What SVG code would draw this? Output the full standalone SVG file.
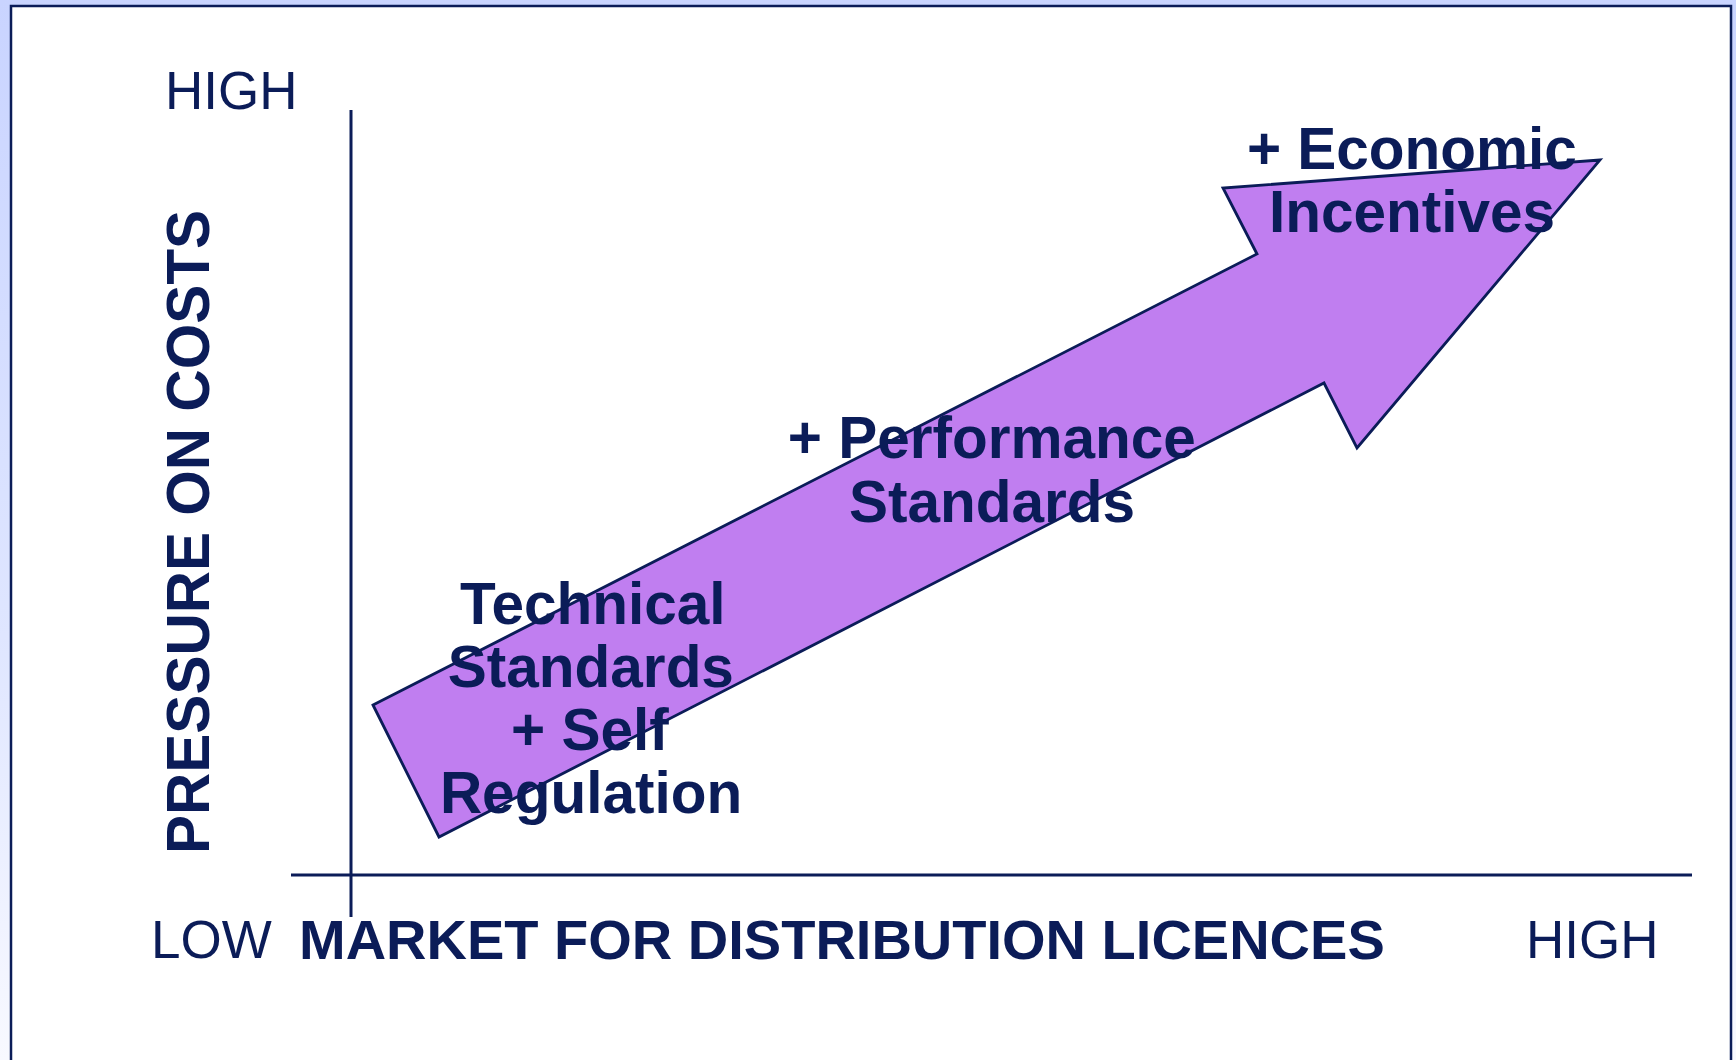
<svg xmlns="http://www.w3.org/2000/svg" width="1736" height="1060" viewBox="0 0 1736 1060">
  <defs>
    <linearGradient id="bg" x1="0" y1="0" x2="0" y2="1">
      <stop offset="0" stop-color="#c9d4ff"/>
      <stop offset="0.6" stop-color="#dfe6ff"/>
      <stop offset="1" stop-color="#f8f9ff"/>
    </linearGradient>
    <style>
      .lbl { font-family: "Liberation Sans", Arial, sans-serif; fill: #0b1c58; }
      .reg { font-size: 53px; }
      .bold { font-weight: bold; }
      .stage { font-size: 58.5px; font-weight: bold; }
      .axis { stroke: #0b1c58; stroke-width: 3; fill: none; }
      .arr { fill: #c07ef0; stroke: #0b1c58; stroke-width: 2.8; stroke-linejoin: miter; }
    </style>
  </defs>
  <rect x="0" y="0" width="1736" height="1060" fill="url(#bg)"/>
  <rect id="frame" x="11" y="6" width="1720" height="1070" fill="#ffffff" stroke="#0b1c58" stroke-width="2.5"/>

  <g id="axes">
    <line class="axis" x1="351" y1="110" x2="351" y2="917"/>
    <line class="axis" x1="291" y1="875" x2="1692" y2="875"/>
  </g>

  <g id="arrow">
    <polygon class="arr" points="373,705 1257,254 1223,188 1600,160 1357,448 1324,383 439,837"/>
  </g>

  <g id="axis-labels">
    <text class="lbl reg" x="165" y="109">HIGH</text>
    <text class="lbl reg" x="151" y="958">LOW</text>
    <text class="lbl reg" x="1526" y="958">HIGH</text>
    <text class="lbl bold" x="299" y="959" font-size="56">MARKET FOR DISTRIBUTION LICENCES</text>
    <text class="lbl bold" font-size="62" text-anchor="middle" transform="translate(209,532) rotate(-90)" textLength="644" lengthAdjust="spacingAndGlyphs">PRESSURE ON COSTS</text>
  </g>

  <g id="stage1">
    <text class="lbl stage" text-anchor="middle">
      <tspan x="601" y="624">Technical</tspan>
      <tspan x="599" y="687">Standards</tspan>
      <tspan x="598" y="750">+ Self</tspan>
      <tspan x="591" y="813">Regulation</tspan>
    </text>
  </g>

  <g id="stage2">
    <text class="lbl stage" text-anchor="middle">
      <tspan x="1000" y="458">+ Performance</tspan>
      <tspan x="992" y="522">Standards</tspan>
    </text>
  </g>

  <g id="stage3">
    <text class="lbl stage" text-anchor="middle">
      <tspan x="1420" y="169">+ Economic</tspan>
      <tspan x="1412" y="232">Incentives</tspan>
    </text>
  </g>
</svg>
